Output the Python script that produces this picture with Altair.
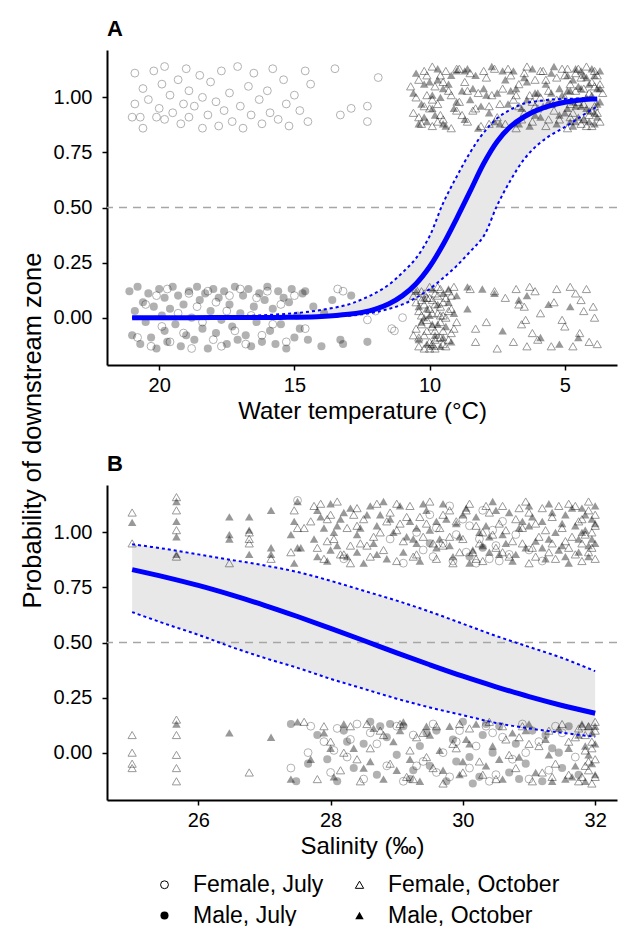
import altair as alt
import pandas as pd

GROUPS = ["Female, July", "Male, July", "Female, October", "Male, October"]

# ---------------- Panel A: water temperature (jittered 0/1 responses) ----------------
a_female_july = [
    (21.0, .91), (20.9, 1.11), (20.9, .97), (20.7, .91), (20.6, 1.04), (20.6, .86), (20.4, .99), (20.2, 1.12),
    (20.1, .91), (20.0, .95), (19.9, 1.06), (19.8, 1.14), (19.8, .90), (19.6, 1.01), (19.5, .93), (19.3, 1.08),
    (19.2, .88), (19.1, .97), (19.0, 1.13), (18.9, .91), (18.9, 1.03), (18.7, .96), (18.5, 1.10), (18.4, .86),
    (18.4, 1.00), (18.2, .92), (18.1, 1.07), (17.9, .98), (17.8, .87), (17.7, 1.12), (17.6, .94), (17.4, 1.02),
    (17.3, .89), (17.1, 1.14), (17.0, .96), (16.9, .86), (16.7, 1.05), (16.6, .92), (16.5, 1.11), (16.3, .99),
    (16.2, .88), (16.0, 1.03), (15.9, .93), (15.8, 1.13), (15.6, .90), (15.4, 1.08), (15.3, .97), (15.2, .87),
    (15.0, 1.01), (14.8, .94), (14.6, 1.12), (14.5, .89), (14.4, 1.06), (13.5, 1.13), (13.3, .92), (12.9, .95),
    (12.3, .89), (12.3, .96), (11.9, 1.09),
    (20.8, -.09), (20.5, .06), (20.3, -.13), (20.1, .10), (19.9, -.04), (19.7, .13), (19.6, -.11), (19.3, .02),
    (19.1, -.07), (18.9, .11), (18.8, -.14), (18.6, .05), (18.4, -.02), (18.2, .12), (18.0, -.10), (17.9, .07),
    (17.7, -.13), (17.5, .03), (17.4, .10), (17.2, -.06), (17.0, .13), (16.8, -.12), (16.6, .01), (16.4, .09),
    (16.2, -.08), (16.0, .12), (15.8, -.03), (15.5, .06), (15.3, -.11), (15.0, .10), (14.6, -.05), (13.4, .13),
    (13.2, .12), (12.3, -.01), (11.4, -.05), (11.0, .00), (11.3, -.06), (12.0, .03),
]
a_male_july = [
    (21.1, .12), (21.0, -.08), (20.9, .03), (20.8, .14), (20.7, -.12), (20.6, .07), (20.5, -.02), (20.4, .11),
    (20.3, -.09), (20.2, .05), (20.1, -.14), (20.0, .13), (19.9, .01), (19.8, -.06), (19.8, .09), (19.7, -.11),
    (19.6, .04), (19.5, .14), (19.4, -.03), (19.3, .10), (19.2, -.13), (19.1, .06), (19.0, -.08), (18.9, .12),
    (18.8, .00), (18.7, -.10), (18.6, .14), (18.5, .08), (18.4, -.05), (18.3, .11), (18.2, -.14), (18.1, .03),
    (18.0, .13), (17.9, -.07), (17.8, .09), (17.7, -.01), (17.6, .12), (17.5, -.12), (17.4, .06), (17.3, -.04),
    (17.2, .14), (17.1, -.10), (17.0, .02), (16.9, .10), (16.8, -.08), (16.7, .13), (16.6, -.13), (16.5, .05),
    (16.4, -.02), (16.3, .11), (16.2, -.11), (16.1, .08), (16.0, .14), (15.9, -.06), (15.8, .04), (15.7, -.12),
    (15.6, .12), (15.5, -.03), (15.4, .09), (15.3, -.14), (15.2, .07), (15.1, .13), (15.0, -.09), (14.9, .01),
    (14.7, .11), (14.6, .12), (14.5, -.10), (14.3, .05), (14.0, -.13), (13.6, .08), (13.3, -.10), (13.2, -.12),
    (12.9, .10), (12.3, -.11), (14.8, -.05), (13.9, .02),
]
a_female_oct = [
    (10.6, .93), (10.4, 1.08), (10.3, .88), (10.2, 1.12), (10.1, 1.01), (10.0, .95), (9.9, 1.14), (9.9, .87),
    (9.8, 1.05), (9.7, .97), (9.6, 1.10), (9.5, .90), (9.3, 1.03), (9.2, .86), (9.0, 1.13), (8.9, .98),
    (8.7, 1.07), (8.6, .89), (8.5, 1.11), (8.4, .94), (8.2, 1.02), (8.1, .87), (7.9, 1.09), (7.8, .96),
    (7.6, 1.13), (7.5, .91), (7.3, 1.04), (7.2, .88), (7.0, 1.10), (6.9, .99), (6.8, .86), (6.7, 1.06),
    (6.5, .93), (6.4, 1.14), (6.3, 1.01), (6.2, .89), (6.1, 1.08), (6.0, .95), (5.8, 1.12), (5.7, .87),
    (5.6, 1.03), (5.5, .97), (5.3, 1.09), (5.2, .90), (5.1, 1.13), (5.0, 1.00), (4.9, .86), (4.8, 1.06),
    (4.7, .93), (4.6, 1.11), (4.5, .98), (4.4, .88), (4.3, 1.04), (4.2, 1.14), (4.1, .92), (4.0, 1.07),
    (3.9, .96), (3.8, 1.10), (3.7, .89), (3.6, 1.02), (4.5, 1.13), (4.8, .91), (5.9, 1.00), (6.6, .90),
    (7.7, 1.01), (8.8, .92), (9.4, 1.12), (10.5, 1.00), (4.0, .87), (4.3, .97), (3.9, 1.12), (5.4, .94),
    (6.1, .96), (9.7, .89), (10.2, .96),
    (10.7, 1.05), (10.4, .91), (10.1, 1.10), (9.9, .99), (9.6, .92), (9.5, 1.07), (9.2, 1.01), (8.9, 1.13),
    (8.6, 1.03), (8.3, .95), (8.0, 1.12), (7.8, .88), (7.4, .97), (7.1, 1.13), (6.8, 1.01), (6.5, 1.11),
    (6.2, .98), (5.9, 1.12), (5.6, .90), (5.3, .99), (5.0, 1.10), (4.8, .97), (4.6, 1.03), (4.4, 1.09),
    (4.3, .90), (4.1, 1.02), (4.0, .94), (3.9, 1.05), (3.8, .93), (3.7, 1.06), (4.2, .87), (4.9, 1.13),
    (5.7, 1.08), (6.7, .96), (9.0, .94),
    (10.6, .10), (10.5, -.05), (10.4, .03), (10.4, -.13), (10.3, .12), (10.2, -.08), (10.2, .06), (10.1, -.01),
    (10.0, .14), (10.0, -.11), (9.9, .08), (9.9, -.04), (9.8, .11), (9.8, -.14), (9.7, .02), (9.7, -.09),
    (9.6, .13), (9.6, .05), (9.5, -.06), (9.5, -.12), (9.4, .09), (9.4, .00), (9.3, -.10), (9.3, .12),
    (9.2, .04), (9.2, -.07), (9.1, .14), (9.0, -.02), (10.3, -.03), (10.1, .09), (9.9, -.12), (10.5, .07),
    (9.7, .10), (9.5, .01), (10.0, .04), (9.8, -.06), (10.2, -.14), (9.6, -.09),
    (10.6, -.08), (10.5, .13), (10.3, .01), (10.1, -.06), (10.0, .09), (9.9, .02), (9.8, -.10), (9.7, .14),
    (9.6, -.02), (9.5, .07), (9.4, -.13), (9.3, .03), (9.2, .10), (9.1, -.05), (10.4, -.09), (10.2, .11),
    (9.8, .06), (10.0, -.14), (9.6, .01), (10.3, .08),
    (8.5, .13), (8.3, -.05), (8.3, -.11), (7.9, -.02), (7.6, .12), (7.5, -.14), (7.2, .09), (6.8, .13),
    (6.7, .06), (6.5, .05), (6.6, -.03), (6.9, -.11), (6.4, -.13), (6.3, .14), (6.1, .12), (6.2, -.07),
    (5.9, .02), (5.5, -.13), (5.4, .07), (5.3, .13), (5.1, -.01), (4.8, .14), (4.6, .11), (5.0, -.04),
    (4.45, -.07), (4.1, -.11), (3.9, .00), (3.8, -.12), (4.4, .08), (4.2, .13), (4.7, -.13), (6.0, -.10),
    (4.3, .03), (6.45, -.01), (3.95, .05),
]
a_male_oct = [
    (10.5, 1.11), (10.3, .97), (10.1, .89), (10.0, 1.07), (9.8, .92), (9.7, 1.13), (9.6, 1.00), (9.4, .87),
    (9.3, 1.06), (9.1, .95), (9.0, 1.12), (8.8, 1.03), (8.7, .90), (8.5, .99), (8.3, 1.10), (8.2, .86),
    (8.0, 1.04), (7.8, .93), (7.7, 1.14), (7.5, 1.02), (7.4, .88), (7.1, .97), (6.9, 1.12), (6.8, 1.04),
    (6.6, .95), (6.5, 1.09), (6.3, .87), (6.2, 1.13), (6.0, 1.02), (5.9, .91), (5.7, 1.06), (5.6, .98),
    (5.4, 1.14), (5.3, .88), (5.1, 1.01), (5.0, .93), (4.9, 1.10), (4.8, 1.03), (4.7, .87), (4.6, .96),
    (4.5, 1.05), (4.4, 1.12), (4.3, .90), (4.2, 1.00), (4.1, .94), (4.0, 1.13), (3.9, .88), (3.8, 1.04),
    (3.7, .98), (4.4, .96), (4.7, 1.08), (4.1, 1.06), (3.8, .91), (4.9, .95), (5.5, 1.11), (6.4, .99),
    (7.2, 1.08), (8.6, 1.13), (9.5, 1.04), (9.9, 1.01), (10.2, .91), (4.2, 1.09), (4.6, .89), (3.7, 1.12),
    (5.2, 1.04), (6.1, .92),
    (10.6, 1.02), (10.4, .88), (10.2, 1.06), (9.9, .95), (9.7, 1.08), (9.5, .88), (9.2, 1.10), (9.0, .98),
    (8.7, 1.12), (8.4, 1.04), (8.1, .96), (7.9, 1.01), (7.6, .89), (7.3, 1.12), (7.0, 1.03), (6.7, .88),
    (6.4, 1.07), (6.1, 1.02), (5.8, .96), (5.5, 1.02), (5.2, .92), (4.9, 1.03), (4.7, .98), (4.5, .91),
    (4.3, 1.10), (4.2, .95), (4.0, 1.01), (3.9, 1.10), (3.8, .97), (3.7, 1.04), (4.4, 1.04), (4.1, .89),
    (4.6, 1.13), (3.9, .93), (4.8, .89),
    (10.5, .12), (10.3, -.02), (10.2, .09), (10.1, -.12), (10.0, .01), (9.9, .13), (9.8, -.08), (9.7, .06),
    (9.6, -.13), (9.5, .11), (9.4, -.04), (9.3, .07), (9.2, -.11), (9.0, .10), (10.4, .05), (9.9, -.03),
    (10.4, -.10), (10.1, .04), (9.9, -.13), (9.7, -.03), (9.5, -.09), (9.3, .13), (9.1, .02), (10.2, .00),
    (8.6, .14), (8.05, .13), (7.6, .11), (8.6, .04), (7.3, -.06), (6.7, .08), (6.4, .10), (5.2, -.12),
    (5.6, .06), (4.5, -.09), (4.8, .05), (5.9, -.09),
]

# ---------------- Panel B: salinity ----------------
b_female_july = [
    (27.5, 1.145), (29.3, 1.00), (29.4, .92), (29.5, 1.08), (29.55, .89), (29.6, 1.02), (29.7, .95), (29.8, 1.12),
    (29.85, .87), (29.9, .99), (30.0, 1.06), (30.05, .91), (30.1, 1.03), (30.2, .86), (30.25, .97), (30.3, 1.10),
    (30.4, .88), (30.45, 1.01), (30.5, .94), (30.55, .87), (30.6, 1.05), (30.7, .90), (28.2, .88), (28.9, .97),
    (29.1, .86), (31.0, .92), (30.8, .99), (31.2, .87),
    (27.4, -.07), (27.66, .00), (27.7, .12), (27.9, .05), (28.0, -.09), (28.1, .11), (28.25, -.02), (28.4, .13),
    (28.5, -.12), (28.7, .04), (28.85, -.06), (29.0, .12), (29.1, -.13), (29.25, .08), (29.4, -.04), (29.55, .13),
    (29.7, .00), (29.8, -.11), (29.95, .10), (30.1, -.07), (30.2, .03), (30.35, .12), (30.5, -.10), (30.6, .07),
    (30.75, -.03), (30.9, .13), (31.0, -.12), (31.15, .05), (31.3, -.08), (31.5, .09), (31.7, -.02), (28.3, .06),
    (29.6, -.09), (30.4, -.13), (28.05, .01), (28.6, .09), (29.3, -.06), (29.9, .05), (30.45, .09), (30.95, .00),
    (31.4, .12),
]
b_male_july = [
    (29.5, .95), (30.1, .89), (30.3, .93),
    (27.4, .13), (27.66, -.05), (27.48, -.13), (27.8, .08), (27.95, -.03), (28.1, -.13), (28.2, .10), (28.35, -.07),
    (28.5, .04), (28.6, .14), (28.7, -.10), (28.85, .07), (29.0, -.01), (29.1, .12), (29.2, -.12), (29.35, .03),
    (29.5, -.06), (29.6, .10), (29.75, -.13), (29.85, .06), (30.0, .14), (30.1, -.02), (30.25, -.11), (30.3, .08),
    (30.45, .00), (30.55, .12), (30.7, -.09), (30.8, .04), (30.95, -.05), (31.05, .10), (31.2, -.13), (31.35, .02),
    (31.5, -.07), (31.6, .12), (31.75, -.10), (28.9, .13), (29.45, .09), (30.15, -.14),
    (28.25, .05), (28.75, .12), (29.25, -.08), (29.9, -.04), (30.35, .13), (30.85, -.12), (31.25, .08), (31.45, .00),
]
b_female_oct = [
    (25.0, 1.09), (25.0, .95), (25.67, 1.16), (25.67, 1.10), (25.67, 1.01), (25.67, .89), (26.47, .86), (26.77, 1.00),
    (26.77, .97), (26.77, .95), (27.1, .88), (27.45, 1.10), (27.5, 1.02), (27.6, 1.02), (27.4, .91),
    (27.7, 1.05), (27.8, .93), (27.85, 1.13), (27.9, .88), (28.0, 1.08), (28.05, .97), (28.1, 1.14), (28.2, .90),
    (28.25, 1.02), (28.3, .86), (28.4, 1.11), (28.45, .95), (28.5, 1.06), (28.6, .89), (28.7, 1.13), (28.75, 1.00),
    (28.8, .92), (28.9, 1.09), (29.0, .87), (29.05, 1.04), (29.1, .96), (29.2, 1.12), (29.3, .90), (29.35, 1.07),
    (29.4, .98), (29.5, 1.14), (29.6, .88), (29.65, 1.02), (29.7, .94), (29.8, 1.10), (29.85, .86), (29.9, 1.05),
    (30.0, .97), (30.1, 1.13), (30.15, .91), (30.2, 1.03), (30.3, .87), (30.4, 1.09), (30.45, .99), (30.5, .93),
    (30.6, 1.12), (30.65, 1.01), (30.7, .89), (30.8, 1.06), (30.9, .95), (30.95, 1.14), (31.0, .86), (31.1, 1.04),
    (31.15, .98), (31.2, 1.11), (31.3, .91), (31.35, 1.07), (31.4, .88), (31.5, 1.02), (31.55, .96), (31.6, 1.13),
    (31.7, .90), (31.75, 1.05), (31.8, .87), (31.85, .99), (31.9, 1.10), (31.95, .93), (32.0, 1.03), (32.0, .88),
    (31.9, 1.14), (31.8, .95), (29.0, 1.01), (28.4, 1.03), (30.3, 1.00), (31.0, 1.09),
    (27.75, 1.12), (27.95, .96), (28.15, .90), (28.35, 1.08), (28.55, .94), (28.85, 1.05), (29.0, 1.13), (29.25, .89),
    (29.45, 1.04), (29.7, 1.08), (29.95, .91), (30.05, 1.10), (30.25, .95), (30.35, 1.12), (30.55, 1.04), (30.75, .96),
    (30.85, 1.11), (31.05, .93), (31.25, 1.01), (31.45, 1.12), (31.65, .98), (31.8, 1.06), (31.9, .91), (32.0, 1.08),
    (31.95, 1.00), (31.7, 1.12), (31.6, .93), (31.35, .95), (31.1, .89), (30.9, 1.02), (30.6, .91), (30.2, .88),
    (29.8, .98), (29.55, .95), (29.15, 1.07), (28.65, .98), (28.3, .94), (27.95, 1.06),
    (25.0, .08), (25.0, .00), (25.0, -.05), (25.0, -.07), (25.67, .15), (25.67, .08), (25.67, -.01), (25.67, -.07),
    (25.67, -.13), (26.77, -.09),
    (27.6, .14), (27.8, -.12), (28.0, .05), (28.15, -.08), (28.3, .12), (28.45, -.13), (28.6, .02), (28.75, .10),
    (28.9, -.05), (29.05, .13), (29.15, -.11), (29.3, .07), (29.45, -.02), (29.6, .12), (29.7, -.14), (29.85, .04),
    (30.0, -.09), (30.1, .11), (30.25, -.04), (30.4, .14), (30.5, -.12), (30.65, .06), (30.8, -.07), (30.9, .12),
    (31.05, -.13), (31.15, .03), (31.3, .10), (31.4, -.05), (31.5, .13), (31.6, -.10), (31.7, .07), (31.75, -.13),
    (31.85, .01), (31.9, .12), (31.9, -.08), (31.95, .05), (32.0, -.03), (32.0, .10), (31.8, -.11), (31.95, -.14),
    (32.0, .14), (31.85, .08), (29.9, .02), (28.2, .00), (30.7, -.01), (31.2, -.09), (29.4, .09),
    (27.9, .12), (28.4, -.03), (28.8, .08), (29.2, .01), (29.55, -.07), (29.95, .13), (30.3, -.10), (30.6, .12),
    (31.0, .04), (31.35, -.11), (31.6, .05), (31.8, .12), (31.9, -.04), (32.0, -.11), (31.95, .02), (31.85, -.06),
    (31.75, .11), (30.85, .07), (29.25, -.12), (28.55, .13),
]
b_male_oct = [
    (25.0, 1.045), (25.67, 1.14), (25.67, 1.05), (25.67, .98), (25.67, .90), (26.47, 1.07), (26.47, .99), (26.47, .97),
    (26.77, 1.07), (26.77, 1.01), (26.77, .90), (27.1, 1.10), (27.1, .93), (27.1, .90), (27.5, 1.14), (27.45, 1.05),
    (27.4, .99), (27.5, .93), (27.45, .86), (27.55, .93),
    (27.75, .97), (27.8, 1.10), (27.9, 1.02), (27.95, .87), (28.0, 1.13), (28.1, .94), (28.15, 1.06), (28.25, .89),
    (28.3, 1.11), (28.4, .99), (28.5, .86), (28.55, 1.08), (28.65, .95), (28.7, 1.03), (28.8, 1.14), (28.85, .88),
    (28.95, 1.00), (29.05, 1.12), (29.1, .91), (29.2, 1.05), (29.25, .97), (29.35, .87), (29.45, 1.10), (29.5, 1.01),
    (29.6, .93), (29.7, 1.13), (29.75, 1.06), (29.85, .89), (29.95, .98), (30.05, 1.11), (30.1, .86), (30.2, 1.07),
    (30.3, .94), (30.35, 1.03), (30.45, 1.14), (30.55, .90), (30.6, .99), (30.7, 1.09), (30.75, .87), (30.85, 1.02),
    (30.95, .93), (31.0, 1.12), (31.1, .96), (31.2, 1.05), (31.25, .88), (31.3, 1.13), (31.4, 1.00), (31.45, .92),
    (31.55, 1.08), (31.6, .86), (31.7, 1.03), (31.75, .97), (31.8, 1.11), (31.9, .89), (31.95, 1.06), (32.0, .95),
    (32.0, 1.12), (31.85, 1.01), (31.5, .94), (30.9, 1.05), (30.4, .91), (29.9, 1.04), (29.3, .95), (28.6, 1.12),
    (28.05, 1.00),
    (27.8, .89), (28.0, .92), (28.2, 1.09), (28.45, 1.02), (28.7, .90), (28.9, 1.06), (29.15, .98), (29.4, 1.13),
    (29.6, 1.05), (29.8, .94), (30.0, 1.08), (30.25, 1.00), (30.5, 1.10), (30.65, .95), (30.8, .90), (31.0, 1.03),
    (31.2, .93), (31.35, 1.09), (31.5, 1.04), (31.65, 1.11), (31.75, .91), (31.85, 1.08), (31.95, .97), (32.0, 1.04),
    (31.9, .94), (31.8, 1.00), (31.55, .89), (31.3, .97), (31.05, 1.07), (30.4, .98), (30.15, .92), (29.65, .97),
    (29.3, 1.02), (28.75, 1.08), (28.4, .91), (28.1, 1.03), (27.85, 1.07),
    (25.67, .13), (26.47, .09), (27.1, .07), (27.5, .14), (27.4, -.12),
    (27.7, -.03), (27.9, .09), (28.05, -.11), (28.2, .13), (28.35, .02), (28.5, -.07), (28.65, .11), (28.8, -.12),
    (28.95, .05), (29.1, .14), (29.2, -.03), (29.35, -.13), (29.5, .08), (29.65, .01), (29.8, .12), (29.95, -.10),
    (30.05, .06), (30.2, .13), (30.35, -.06), (30.45, .03), (30.6, -.12), (30.75, .09), (30.85, -.02), (31.0, .13),
    (31.1, -.09), (31.25, .06), (31.35, -.13), (31.45, .11), (31.6, .02), (31.7, -.06), (31.8, .13), (31.9, -.01),
    (31.95, .09), (32.0, -.10), (31.85, -.13), (32.0, .04), (31.9, .12), (30.0, -.04), (29.0, -.08),
    (28.0, .02), (28.6, -.04), (29.05, .10), (29.7, -.08), (30.1, .04), (30.55, -.03), (30.95, .10), (31.3, -.01),
    (31.55, -.12), (31.75, .08), (31.95, -.05), (32.0, .12), (31.85, .03), (31.65, -.11), (29.45, .12),
]

# ---------------- fitted curves and confidence bands ----------------
temp_grid = [21.0, 20.0, 19.0, 18.0, 17.0, 16.0, 15.0, 14.0, 13.0, 12.5, 12.0, 11.5, 11.0, 10.5, 10.0,
             9.5, 9.0, 8.5, 8.0, 7.5, 7.0, 6.5, 6.0, 5.5, 5.0, 4.5, 4.0, 3.8]
temp_fit = [0.0, 0.0, 0.0, 0.0001, 0.0003, 0.0008, 0.002, 0.0055, 0.015, 0.024, 0.039, 0.063, 0.10, 0.154, 0.231,
            0.332, 0.45, 0.574, 0.70, 0.80, 0.868, 0.912, 0.943, 0.964, 0.978, 0.987, 0.992, 0.993]
temp_upper = [0.0005, 0.001, 0.002, 0.004, 0.007, 0.012, 0.02, 0.035, 0.06, 0.083, 0.112, 0.15, 0.205, 0.27, 0.37,
              0.52, 0.64, 0.75, 0.84, 0.905, 0.945, 0.972, 0.983, 0.99, 0.993, 0.995, 0.997, 0.997]
temp_lower = [0.0, 0.0, 0.0, 0.0, 0.0001, 0.0003, 0.001, 0.003, 0.009, 0.015, 0.025, 0.04, 0.06, 0.09, 0.13,
              0.18, 0.235, 0.30, 0.37, 0.51, 0.625, 0.72, 0.785, 0.83, 0.865, 0.905, 0.945, 0.958]

sal_grid = [25.0, 25.5, 26.0, 26.5, 27.0, 27.5, 28.0, 28.5, 29.0, 29.5, 30.0, 30.5, 31.0, 31.5, 32.0]
sal_fit = [0.831, 0.797, 0.759, 0.716, 0.669, 0.618, 0.564, 0.509, 0.453, 0.399, 0.347, 0.299, 0.254, 0.214, 0.179]
sal_upper = [0.946, 0.925, 0.90, 0.875, 0.85, 0.82, 0.78, 0.735, 0.69, 0.64, 0.585, 0.53, 0.48, 0.43, 0.37]
sal_lower = [0.638, 0.585, 0.535, 0.48, 0.43, 0.385, 0.335, 0.29, 0.245, 0.205, 0.17, 0.135, 0.11, 0.09, 0.072]

y_ticks = [0.0, 0.25, 0.5, 0.75, 1.0]
temp_ticks = [20, 15, 10, 5]
sal_ticks = [26, 28, 30, 32]


def points_df(groups):
    rows = []
    for name, pts in groups:
        for x, y in pts:
            rows.append({"x": x, "y": y, "grp": name})
    return pd.DataFrame(rows)


fit_a = pd.DataFrame({"x": temp_grid, "fit": temp_fit, "upper": temp_upper, "lower": temp_lower})
fit_b = pd.DataFrame({"x": sal_grid, "fit": sal_fit, "upper": sal_upper, "lower": sal_lower})
half = pd.DataFrame({"y": [0.5]})

FONT = "Liberation Sans"
W, H = 510, 315
shape_scale = alt.Scale(domain=GROUPS, range=["circle", "circle", "triangle-up", "triangle-up"])
fill_scale = alt.Scale(domain=GROUPS, range=["transparent", "black", "transparent", "black"])
stroke_scale = alt.Scale(domain=GROUPS, range=["black", "transparent", "black", "transparent"])
size_scale = alt.Scale(domain=GROUPS, range=[62, 72, 100, 112])
y_scale = alt.Scale(domain=[-0.215, 1.215], nice=False, zero=False)

axis_style = dict(domainColor="black", domainWidth=2, tickColor="black", tickWidth=1.5, tickSize=5,
                  labelFontSize=20, labelColor="black", labelFont=FONT, titleFont=FONT, titleFontSize=24,
                  titleFontWeight="normal", titleColor="black", grid=False)


def panel(july_pts, oct_pts, fit, xdomain, xticks, xtitle, reverse, label, with_legend, rule_on_top, ytitle):
    x_scale = alt.Scale(domain=xdomain, reverse=reverse, nice=False, zero=False)
    x_enc = alt.X("x:Q", scale=x_scale,
                  axis=alt.Axis(values=xticks, format="d", title=xtitle, labelPadding=5, titlePadding=4,
                                **axis_style))
    if ytitle:
        ystyle = dict(axis_style)
        ystyle["titleFontSize"] = 25.5
        y_axis = alt.Axis(values=y_ticks, format=".2f", title=ytitle, titleAngle=270, titleX=-74.5, titleY=380,
                          titleAlign="center", titleBaseline="middle", labelPadding=10, **ystyle)
    else:
        y_axis = alt.Axis(values=y_ticks, format=".2f", title=None, labelPadding=10, **axis_style)

    rule = alt.Chart(half).mark_rule(color="#a6a6a6", strokeDash=[8, 6], strokeWidth=1.5).encode(
        y=alt.Y("y:Q", scale=y_scale, axis=y_axis))
    band = alt.Chart(fit).mark_area(color="#e8e8e8", interpolate="catmull-rom").encode(
        x=x_enc, y=alt.Y("lower:Q", scale=y_scale, axis=y_axis), y2="upper:Q")

    if with_legend:
        leg = alt.Legend(title=None, orient="none", legendX=46, legendY=388, columns=2, columnPadding=24,
                         rowPadding=7, labelOffset=17, labelFontSize=23, labelFont=FONT, labelColor="black",
                         labelLimit=400, symbolStrokeWidth=1, symbolOpacity=1, padding=0)
    else:
        leg = None

    def pt_layer(df, op):
        return alt.Chart(df).mark_point(filled=True, strokeWidth=1, opacity=op).encode(
            x=x_enc,
            y=alt.Y("y:Q", scale=y_scale, axis=y_axis),
            shape=alt.Shape("grp:N", scale=shape_scale, legend=leg),
            fill=alt.Fill("grp:N", scale=fill_scale, legend=leg),
            stroke=alt.Stroke("grp:N", scale=stroke_scale, legend=leg),
            size=alt.Size("grp:N", scale=size_scale, legend=leg),
        )

    july_layer = pt_layer(july_pts, 0.3)
    oct_layer = pt_layer(oct_pts, 0.4)
    upper = alt.Chart(fit).mark_line(color="#0000ff", strokeDash=[3, 3], strokeWidth=2,
                                     interpolate="catmull-rom").encode(x=x_enc, y=alt.Y("upper:Q", scale=y_scale))
    lower = alt.Chart(fit).mark_line(color="#0000ff", strokeDash=[3, 3], strokeWidth=2,
                                     interpolate="catmull-rom").encode(x=x_enc, y=alt.Y("lower:Q", scale=y_scale))
    curve = alt.Chart(fit).mark_line(color="#0000ff", strokeWidth=5,
                                     interpolate="catmull-rom").encode(x=x_enc, y=alt.Y("fit:Q", scale=y_scale))
    layers = [band, rule] if rule_on_top else [rule, band]
    layers += [july_layer, oct_layer, upper, lower, curve]
    title = alt.TitleParams(text=label, anchor="start", frame="group", fontSize=22, fontWeight="bold",
                            font=FONT, color="black", baseline="alphabetic", offset=-8)
    return alt.layer(*layers).properties(width=W, height=H, title=title)


july_a = points_df([("Female, July", a_female_july), ("Male, July", a_male_july)])
oct_a = points_df([("Female, October", a_female_oct), ("Male, October", a_male_oct)])
july_b = points_df([("Female, July", b_female_july), ("Male, July", b_male_july)])
oct_b = points_df([("Female, October", b_female_oct), ("Male, October", b_male_oct)])

panel_a = panel(july_a, oct_a, fit_a, [3.07, 21.93], temp_ticks, "Water temperature (°C)", True, "A", False,
                False, "Probability of downstream zone")
panel_b = panel(july_b, oct_b, fit_b, [24.62, 32.33], sal_ticks, "Salinity (‰)", False, "B", True, True, None)

chart = alt.vconcat(panel_a, panel_b, spacing=120, bounds="flush").resolve_scale(
    x="independent", y="independent", shape="independent", fill="independent", stroke="independent",
    size="independent"
).resolve_legend(shape="independent", fill="independent", stroke="independent", size="independent").properties(
    padding={"left": 12, "top": 10, "right": 0, "bottom": 0}
).configure(font=FONT).configure_view(stroke=None)

chart.save("out.html", embed_options={"renderer": "svg", "actions": False})
